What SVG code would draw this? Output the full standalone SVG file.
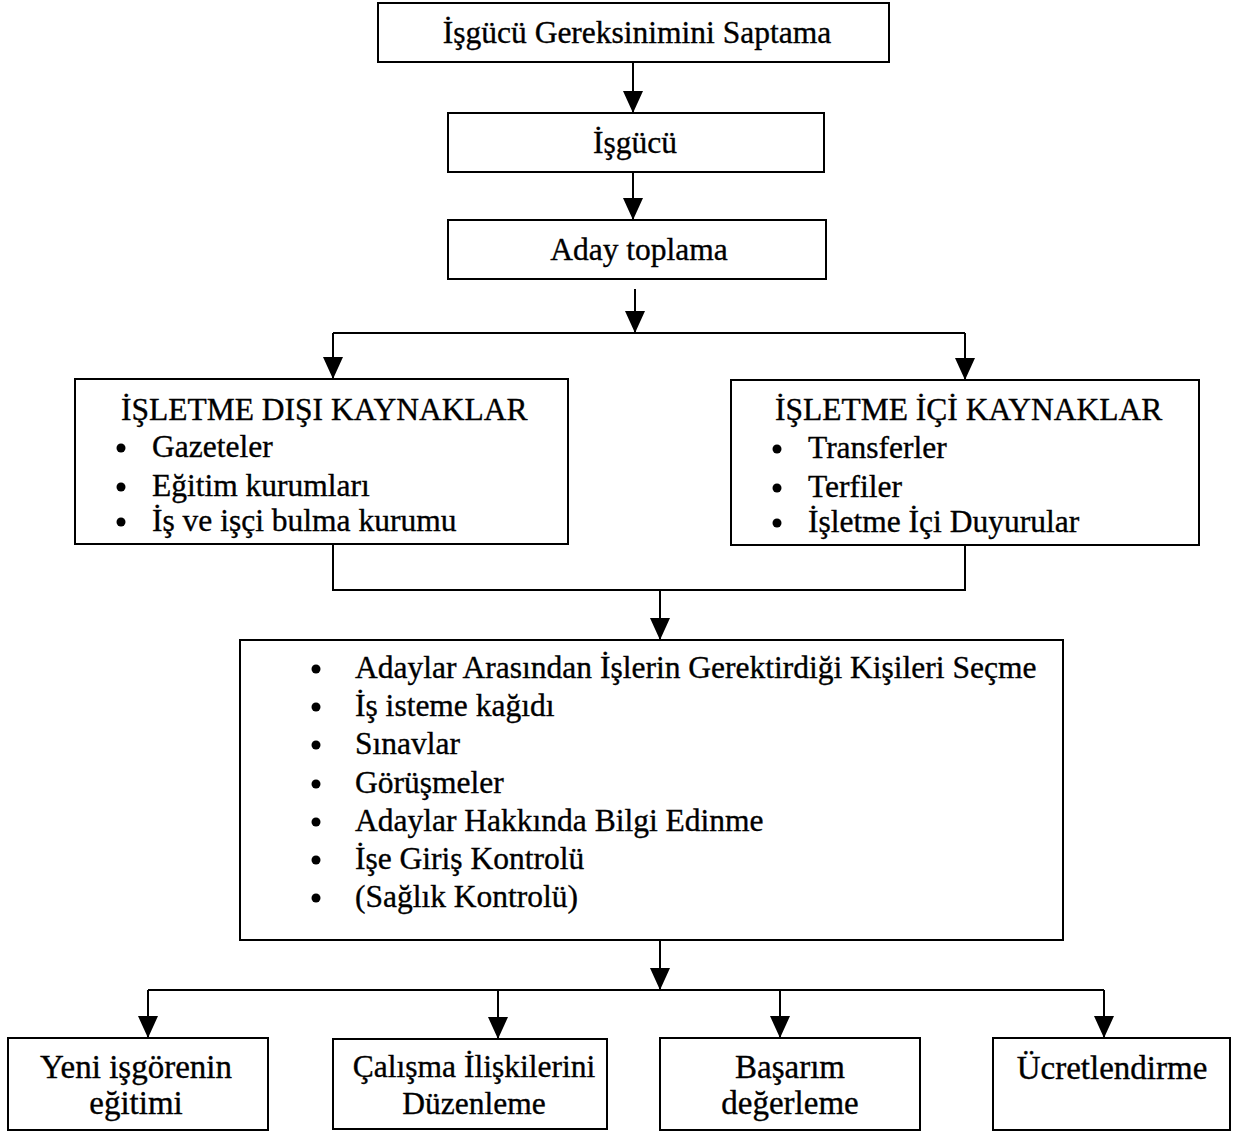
<svg xmlns="http://www.w3.org/2000/svg" width="1239" height="1134" viewBox="0 0 1239 1134">
  <style>
    .box { fill: #ffffff; stroke: #000000; stroke-width: 2; }
    .wire { fill: none; stroke: #000000; stroke-width: 2; }
    text { font-family: "Liberation Serif", "Times New Roman", serif; font-size: 31.5px; fill: #000000; stroke: #000000; stroke-width: 0.35; }
    .c { text-anchor: middle; }
    .big { font-size: 33px; }
    .dot { fill: #000000; }
  </style>
  <defs>
    <marker id="arrow" viewBox="0 0 22 20" refX="22" refY="10" markerWidth="22" markerHeight="20" markerUnits="userSpaceOnUse" orient="auto">
      <path d="M0,0 L22,10 L0,20 Z" fill="#000000"/>
    </marker>
  </defs>
  <rect width="1239" height="1134" fill="#ffffff"/>

  <!-- connectors -->
  <g id="connectors">
    <path class="wire" d="M633,62 V113" marker-end="url(#arrow)"/>
    <path class="wire" d="M633,172 V220" marker-end="url(#arrow)"/>
    <path class="wire" d="M635,289 V333" marker-end="url(#arrow)"/>
    <path class="wire" d="M333,333 H965"/>
    <path class="wire" d="M333,333 V379" marker-end="url(#arrow)"/>
    <path class="wire" d="M965,333 V380" marker-end="url(#arrow)"/>
    <path class="wire" d="M333,544 V590 H965 V545"/>
    <path class="wire" d="M660,590 V640" marker-end="url(#arrow)"/>
    <path class="wire" d="M660,940 V990" marker-end="url(#arrow)"/>
    <path class="wire" d="M148,990 H1104"/>
    <path class="wire" d="M148,990 V1038" marker-end="url(#arrow)"/>
    <path class="wire" d="M498,990 V1039" marker-end="url(#arrow)"/>
    <path class="wire" d="M780,990 V1038" marker-end="url(#arrow)"/>
    <path class="wire" d="M1104,990 V1038" marker-end="url(#arrow)"/>
  </g>

  <g id="need">
    <rect class="box" x="378" y="3" width="511" height="59"/>
    <text class="c" x="637" y="43">İşgücü Gereksinimini Saptama</text>
  </g>

  <g id="workforce">
    <rect class="box" x="448" y="113" width="376" height="59"/>
    <text class="c" x="635" y="153">İşgücü</text>
  </g>

  <g id="recruiting">
    <rect class="box" x="448" y="220" width="378" height="59"/>
    <text class="c" x="639" y="260">Aday toplama</text>
  </g>

  <g id="external">
    <rect class="box" x="75" y="379" width="493" height="165"/>
    <text x="121" y="420">İŞLETME DIŞI KAYNAKLAR</text>
    <circle class="dot" cx="121" cy="448" r="4.5"/>
    <text x="152" y="457">Gazeteler</text>
    <circle class="dot" cx="121" cy="487" r="4.5"/>
    <text x="152" y="496">Eğitim kurumları</text>
    <circle class="dot" cx="121" cy="522" r="4.5"/>
    <text x="152" y="531">İş ve işçi bulma kurumu</text>
  </g>

  <g id="internal">
    <rect class="box" x="731" y="380" width="468" height="165"/>
    <text x="775" y="420">İŞLETME İÇİ KAYNAKLAR</text>
    <circle class="dot" cx="777" cy="449" r="4.5"/>
    <text x="808" y="458">Transferler</text>
    <circle class="dot" cx="777" cy="488" r="4.5"/>
    <text x="808" y="497">Terfiler</text>
    <circle class="dot" cx="777" cy="523" r="4.5"/>
    <text x="808" y="532">İşletme İçi Duyurular</text>
  </g>

  <g id="selection">
    <rect class="box" x="240" y="640" width="823" height="300"/>
    <circle class="dot" cx="316" cy="669" r="4.5"/>
    <text x="355" y="678">Adaylar Arasından İşlerin Gerektirdiği Kişileri Seçme</text>
    <circle class="dot" cx="316" cy="707" r="4.5"/>
    <text x="355" y="716">İş isteme kağıdı</text>
    <circle class="dot" cx="316" cy="745" r="4.5"/>
    <text x="355" y="754">Sınavlar</text>
    <circle class="dot" cx="316" cy="784" r="4.5"/>
    <text x="355" y="793">Görüşmeler</text>
    <circle class="dot" cx="316" cy="822" r="4.5"/>
    <text x="355" y="831">Adaylar Hakkında Bilgi Edinme</text>
    <circle class="dot" cx="316" cy="860" r="4.5"/>
    <text x="355" y="869">İşe Giriş Kontrolü</text>
    <circle class="dot" cx="316" cy="898" r="4.5"/>
    <text x="355" y="907">(Sağlık Kontrolü)</text>
  </g>

  <g id="training">
    <rect class="box" x="8" y="1038" width="260" height="92"/>
    <text class="c big" x="136" y="1078">Yeni işgörenin</text>
    <text class="c big" x="136" y="1114">eğitimi</text>
  </g>

  <g id="relations">
    <rect class="box" x="333" y="1039" width="274" height="90"/>
    <text class="c" x="474" y="1077">Çalışma İlişkilerini</text>
    <text class="c" x="474" y="1114">Düzenleme</text>
  </g>

  <g id="appraisal">
    <rect class="box" x="660" y="1038" width="260" height="92"/>
    <text class="c big" x="790" y="1078">Başarım</text>
    <text class="c big" x="790" y="1114">değerleme</text>
  </g>

  <g id="pay">
    <rect class="box" x="993" y="1038" width="237" height="92"/>
    <text class="c big" x="1112" y="1079">Ücretlendirme</text>
  </g>
</svg>
